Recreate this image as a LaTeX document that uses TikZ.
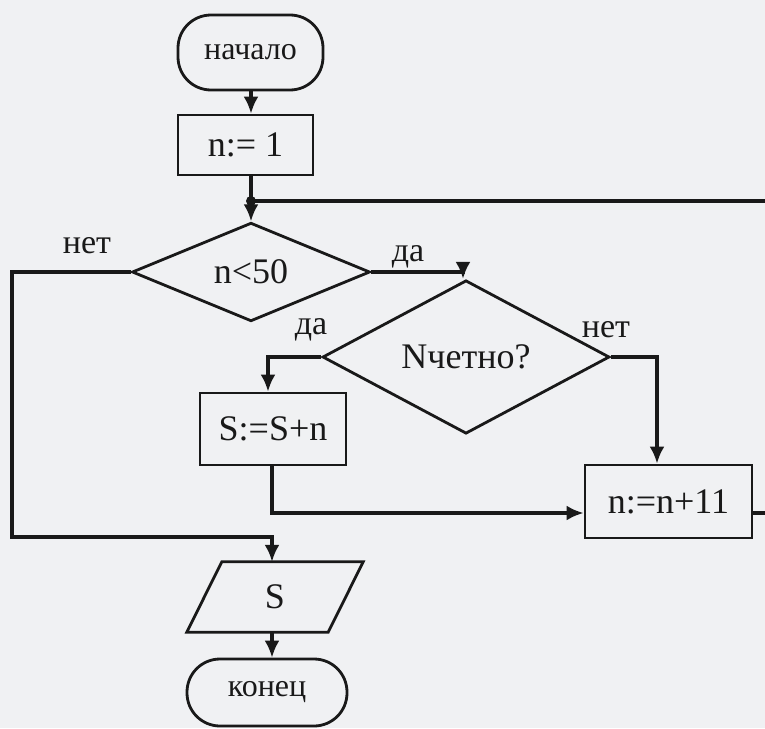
\documentclass[tikz,border=0pt]{standalone}
\usepackage{fontspec}
\setmainfont{Liberation Serif}
\usetikzlibrary{shapes.geometric,arrows.meta}
\definecolor{paper}{RGB}{240,241,243}
\definecolor{ink}{RGB}{25,25,25}
\begin{document}
\begin{tikzpicture}[x=1pt,y=-1pt,
  every node/.style={font=\fontsize{36}{40}\selectfont, text=ink},
  term/.style={draw=ink, line width=2.8pt, rounded corners=33pt, inner sep=0pt, font=\fontsize{32}{36}\selectfont},
  proc/.style={draw=ink, line width=2.8pt, inner sep=0pt},
  dec/.style={draw=ink, line width=2.8pt, diamond, inner sep=0pt},
  io/.style={inner sep=0pt},
  lbl/.style={font=\fontsize{34}{38}\selectfont},
  flow/.style={draw=ink, line width=3.2pt},
  arr/.style={flow, -{Latex[length=17pt,width=15pt]}}]
\fill[paper] (0,0) rectangle (765,728);
\useasboundingbox (0,0) rectangle (765,728);

\node[term, minimum width=145pt, minimum height=75pt] (start) at (250.5,52.5) {начало};
\node[proc, minimum width=135pt, minimum height=60pt] (init) at (245.5,145) {n:=~1};
\coordinate (J) at (251,201);
\node[dec, minimum width=238pt, minimum height=94pt] (d1) at (251,272) {n<50};
\node[dec, minimum width=287pt, minimum height=121pt] (d2) at (466,357) {Nчетно?};
\node[proc, minimum width=146pt, minimum height=72pt] (s) at (273,429) {S:=S+n};
\node[proc, minimum width=167pt, minimum height=73pt] (inc) at (668.5,501.5) {n:=n+11};
\node[io, minimum width=141pt, minimum height=70pt] (out) at (275,597) {S};
\draw[ink, line width=2.8pt] ([xshift=17.5pt]out.north west) -- ([xshift=17.5pt]out.north east)
  -- ([xshift=-17.5pt]out.south east) -- ([xshift=-17.5pt]out.south west) -- cycle;
\node[term, minimum width=160pt, minimum height=67pt] (end) at (267,692.5) {конец};

\coordinate (R1) at (765,201);
\coordinate (R2) at (765,513);
\coordinate (L1) at (12,272);
\coordinate (L2) at (12,537);
\coordinate (B) at (272,513);

% main flow
\draw[arr] (start.south -| J) -- (init.north -| J);
\draw[flow] (init.south -| J) -- (J);
\draw[arr] (J) -- (d1.north);
\fill[ink] (J) circle (5pt);
\draw[flow] (J) -- (R1);

% n<50 yes
\draw[arr] (d1.east) -| ([xshift=-3pt]d2.north);
\node[lbl] at (408,257) {да};
% n<50 no
\draw[arr] (d1.west) -- (L1) -- (L2) -| (out.north -| B);
\node[lbl] at (87,246) {нет};

% Nчетно yes
\draw[arr] (d2.west) -| ([xshift=-5pt]s.north);
\node[lbl] at (311,330) {да};
% Nчетно no
\draw[arr] (d2.east) -| ([xshift=-11.5pt]inc.north);
\node[lbl] at (606,330) {нет};

% S:=S+n -> n:=n+11
\draw[arr] (s.south -| B) -- (B) -- ([yshift=-11.5pt]inc.west);
\draw[flow] ([yshift=-11.5pt]inc.east) -- (R2);

% output -> end
\draw[arr] (out.south -| B) -- (end.north -| B);
\end{tikzpicture}
\end{document}
